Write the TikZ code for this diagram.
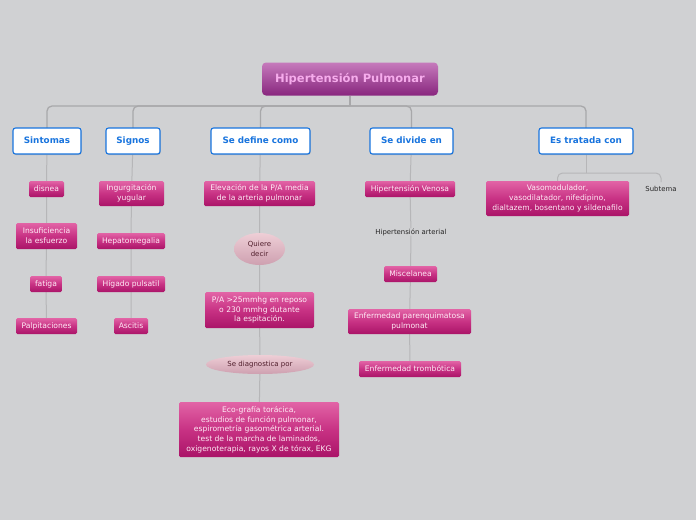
\documentclass[tikz,border=0pt]{standalone}
\usepackage{fontspec}
\setmainfont{DejaVu Sans}
\usetikzlibrary{shapes.geometric,shadows,backgrounds}
\definecolor{bg}{RGB}{208,209,211}
\definecolor{pinkTop}{RGB}{226,100,166}
\definecolor{pinkMid}{RGB}{200,50,132}
\definecolor{pinkBot}{RGB}{170,20,104}
\definecolor{rootTop}{RGB}{198,122,188}
\definecolor{rootBot}{RGB}{136,38,126}
\definecolor{rootText}{RGB}{246,172,236}
\definecolor{ovalTop}{RGB}{238,206,214}
\definecolor{ovalBot}{RGB}{206,160,176}
\definecolor{ovalText}{RGB}{80,30,44}
\definecolor{catBlue}{RGB}{24,116,222}
\definecolor{trunkGray}{RGB}{168,168,170}
\definecolor{linkGray}{RGB}{182,182,184}
\definecolor{leafText}{RGB}{255,236,246}
\begin{document}
\begin{tikzpicture}[x=1pt,y=-1pt,
  rootbox/.style={rounded corners=4pt, top color=rootTop, bottom color=rootBot, text=rootText,
    font=\bfseries\fontsize{11.5}{13}\selectfont, minimum width=176pt, minimum height=33pt, inner sep=0pt},
  catbox/.style={draw=catBlue, line width=1.1pt, fill=white, rounded corners=2.5pt, text=catBlue,
    font=\bfseries\fontsize{8.8}{10}\selectfont, minimum height=26pt, inner sep=0pt,
    text height=6.6pt, text depth=1.8pt,
    drop shadow={shadow xshift=0.6pt, shadow yshift=-1pt, opacity=0.35}},
  leaf/.style={rounded corners=1.5pt, top color=pinkTop, bottom color=pinkBot, middle color=pinkMid,
    text=leafText, font=\fontsize{7.6}{9.7}\selectfont, align=center, inner sep=0pt, minimum height=16pt},
  oval/.style={ellipse, top color=ovalTop, bottom color=ovalBot, text=ovalText,
    font=\fontsize{7}{9.7}\selectfont, align=center, inner sep=0pt},
  plain/.style={text=black!85, font=\fontsize{6.9}{9.7}\selectfont, inner sep=0pt},
  trunk/.style={draw=trunkGray, line width=1.3pt, rounded corners=5pt},
  link/.style={draw=linkGray, line width=1pt}]
\useasboundingbox (0,0) rectangle (696,520);

% root
\node[rootbox] (root) at (350,79) {Hipertensión Pulmonar};

% categories
\node[catbox, minimum width=68pt] (sint) at (47,141) {Sintomas};
\node[catbox, minimum width=54pt] (sign) at (133,141) {Signos};
\node[catbox, minimum width=99pt] (def) at (260.5,141) {Se define como};
\node[catbox, minimum width=83pt] (div) at (411.5,141) {Se divide en};
\node[catbox, minimum width=94pt] (trat) at (586,141) {Es tratada con};

% Sintomas
\node[leaf, minimum width=35pt] (s1) at (46.5,189) {disnea};
\node[leaf, minimum width=61pt, minimum height=26pt] (s2) at (46.5,236) {Insuficiencia\\ la esfuerzo};
\node[leaf, minimum width=32pt] (s3) at (46,284) {fatiga};
\node[leaf, minimum width=61pt] (s4) at (46.5,326) {Palpitaciones};

% Signos
\node[leaf, minimum width=65pt, minimum height=25pt] (g1) at (131.5,193.5) {Ingurgitación\\ yugular};
\node[leaf, minimum width=68pt] (g2) at (131,241) {Hepatomegalia};
\node[leaf, minimum width=68pt] (g3) at (131,284) {Hígado pulsatil};
\node[leaf, minimum width=34pt] (g4) at (131,326) {Ascitis};

% Se define como
\node[leaf, minimum width=111pt, minimum height=25pt] (d1) at (259.5,193.5) {Elevación de la P/A media\\ de la arteria pulmonar};
\node[oval, minimum width=51pt, minimum height=32pt] (d2) at (259.5,249) {Quiere\\ decir};
\node[leaf, minimum width=109pt, minimum height=36pt] (d3) at (259.5,310) {P/A >25mmhg en reposo\\ o 230 mmhg dutante\\ la espitación.};
\node[oval, minimum width=108pt, minimum height=19pt] (d4) at (260,364.5) {Se diagnostica por};
\node[leaf, minimum width=160pt, minimum height=55pt] (d5) at (259,429.5) {Eco-grafía torácica,\\ estudios de función pulmonar,\\ espirometría gasométrica arterial.\\ test de la marcha de laminados,\\ oxigenoterapia, rayos X de tórax, EKG};

% Se divide en
\node[leaf, minimum width=90pt] (v1) at (410,189) {Hipertensión Venosa};
\node[plain] (v2) at (411,232) {Hipertensión arterial};
\node[leaf, minimum width=53pt] (v3) at (410.5,274) {Miscelanea};
\node[leaf, minimum width=123pt, minimum height=25pt] (v4) at (409.5,321.5) {Enfermedad parenquimatosa\\ pulmonat};
\node[leaf, minimum width=102pt] (v5) at (410,369) {Enfermedad trombótica};

% Es tratada con
\node[leaf, minimum width=143pt, minimum height=35pt] (t1) at (557.5,198.5) {Vasomodulador,\\ vasodilatador, nifedipino,\\ dialtazem, bosentano y sildenafilo};
\node[plain] (t2) at (661,189) {Subtema};

\coordinate (hub) at (350,106);
\coordinate (hub2) at (586,173);

\begin{pgfonlayer}{background}
  \fill[bg] (0,0) rectangle (696,520);
  \draw[trunk] (root.south) -- (hub);
  \draw[trunk] (sint.center) |- (hub);
  \draw[trunk] (sign.center) |- (hub);
  \draw[trunk] (def.center) |- (hub);
  \draw[trunk] (div.center) |- (hub);
  \draw[trunk] (trat.center) |- (hub);
  \draw[link] (sint) -- (s1) -- (s2) -- (s3) -- (s4);
  \draw[link] (sign) -- (g1) -- (g2) -- (g3) -- (g4);
  \draw[link] (def) -- (d1) -- (d2) -- (d3) -- (d4) -- (d5);
  \draw[link] (div) -- (v1) -- (v2) -- (v3) -- (v4) -- (v5);
  \draw[link] (trat) -- (hub2);
  \draw[link, rounded corners=5pt] (t1.north) |- (hub2);
  \draw[link, rounded corners=5pt] (t2.north) ++(0,-4) |- (hub2);
\end{pgfonlayer}
\end{tikzpicture}
\end{document}
